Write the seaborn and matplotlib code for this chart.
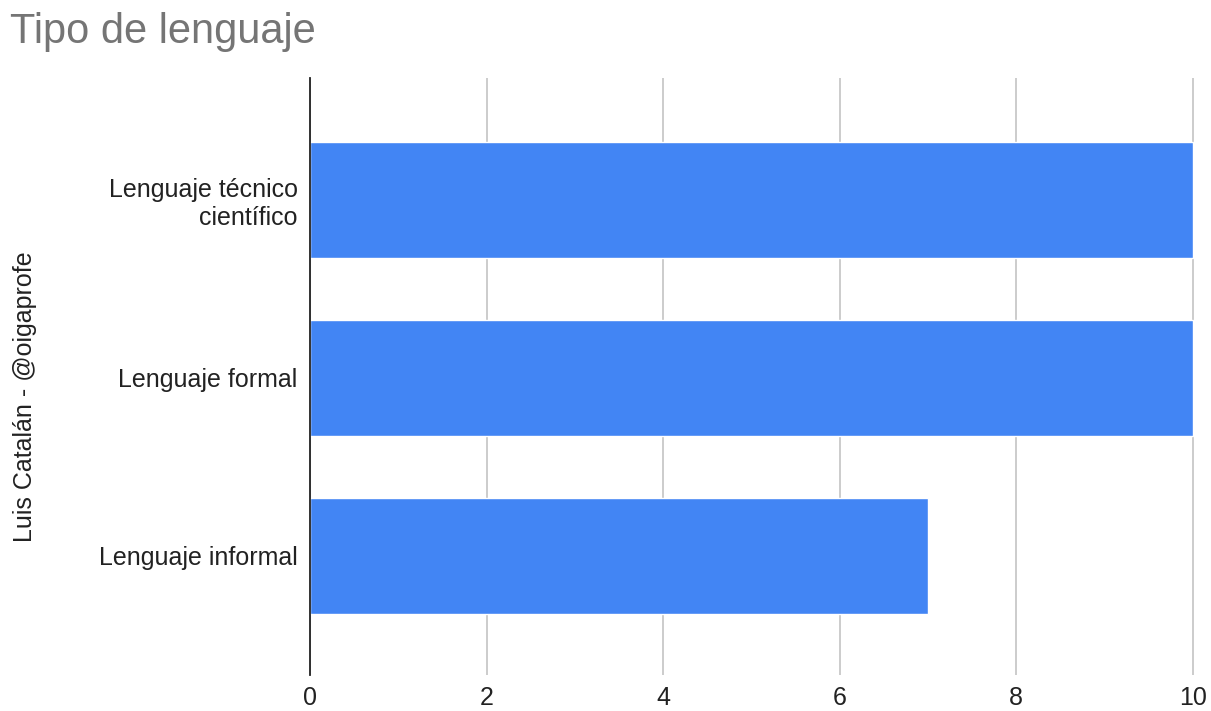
import matplotlib
matplotlib.use('Agg')
import matplotlib.pyplot as plt
import seaborn as sns
import pandas as pd

categories = ['Lenguaje técnico\ncientífico', 'Lenguaje formal', 'Lenguaje informal']
values = [10, 10, 7]
x_ticks = [0, 2, 4, 6, 8, 10]

df = pd.DataFrame({'tipo': categories, 'valor': values})

sns.set_style('white')
plt.rcParams['font.family'] = ['Liberation Sans', 'DejaVu Sans']

fig = plt.figure(figsize=(12.11, 7.11), dpi=100)
ax = fig.add_axes([0.256, 0.0506, 0.732, 0.8397])

sns.barplot(data=df, x='valor', y='tipo', orient='h', color='#4285F4',
            saturation=1, width=0.65, ax=ax, zorder=3)

ax.set_xlim(0, 10.04)
ax.set_ylim(2.669, -0.685)
ax.set_xticks(x_ticks)
ax.set_xticklabels([str(t) for t in x_ticks])
ax.grid(axis='x', color='#cccccc', linewidth=1.4, zorder=0)
ax.grid(axis='y', visible=False)
ax.set_axisbelow(True)

for s in ['top', 'right', 'bottom']:
    ax.spines[s].set_visible(False)
ax.spines['left'].set_color('#222222')
ax.spines['left'].set_linewidth(1.3)
ax.spines['left'].set_zorder(4)

ax.tick_params(axis='both', length=0, labelsize=18, colors='#222222')
ax.tick_params(axis='y', pad=9)
ax.tick_params(axis='x', pad=8)

ax.set_xlabel('')
ax.set_ylabel('Luis Catalán - @oigaprofe', fontsize=18, color='#222222')
ax.yaxis.set_label_coords(-0.308, 0.467)

fig.text(0.008, 0.955, 'Tipo de lenguaje', fontsize=30, color='#757575',
         ha='left', va='center')

fig.savefig('out.png', dpi=100)
